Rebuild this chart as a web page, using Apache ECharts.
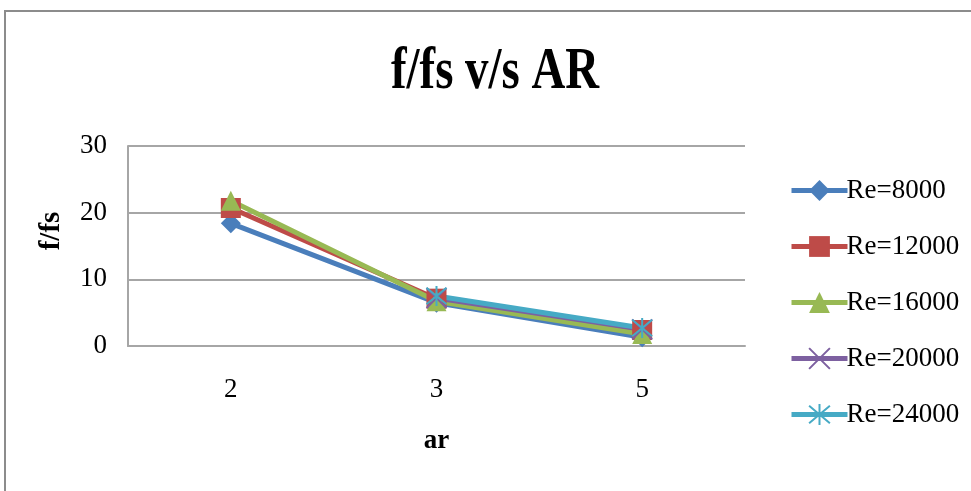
<!DOCTYPE html>
<html><head><meta charset="utf-8">
<script src="https://cdn.jsdelivr.net/npm/echarts@6/dist/echarts.min.js"></script>
<style>html,body{margin:0;padding:0;background:#fff}#c{width:971px;height:491px}</style>
</head><body><div id="c"></div>
<script>
const categories = ['2', '3', '5'];
const seriesNames = ['Re=8000', 'Re=12000', 'Re=16000', 'Re=20000', 'Re=24000'];
const re8000 = [18.4, 6.5, 1.3];
const re12000 = [20.7, 7.1, 2.4];
const re16000 = [21.8, 6.7, 1.8];
const re20000 = [null, 7.2, 2.5];
const re24000 = [null, 7.5, 2.7];
const yTicks = [0, 10, 20, 30];
const titleText = 'f/fs v/s AR';

const colors = ['#4a7ebb', '#be4b48', '#98b954', '#7d60a0', '#46aac5'];
const xPath = 'path://M0,0L10,10M10,0L0,10';
const starPath = 'path://M0,0L10,10M10,0L0,10M5,-1L5,11';
const symbols = ['diamond', 'rect', 'triangle', xPath, starPath];
const sizes = [20, 20, 20, 20, 20];
const data = [re8000, re12000, re16000, re20000, re24000];

const chart = echarts.init(document.getElementById('c'));
const serif = '"Liberation Serif", "Times New Roman", serif';
chart.setOption({
  animation: false,
  color: colors,
  graphic: [
    {type: 'rect', shape: {x: 5, y: 11, width: 1000, height: 520}, style: {fill: 'none', stroke: '#8c8c8c', lineWidth: 2}},
    {type: 'text', x: 495, y: 72, scaleX: 0.78, style: {text: titleText, fontFamily: serif, fontWeight: 'bold', fontSize: 60, fill: '#000', align: 'center', verticalAlign: 'middle'}}
  ],
  legend: {
    orient: 'vertical', left: 784, top: 172, itemGap: 29, itemWidth: 56, itemHeight: 26,
    lineStyle: {width: 5},
    textStyle: {fontFamily: serif, fontSize: 27, color: '#000', padding: [0, 0, 0, -6]},
    data: seriesNames
  },
  grid: {left: 128, top: 146, width: 617, height: 200, containLabel: false},
  xAxis: {
    type: 'category', data: categories, boundaryGap: true,
    name: 'ar', nameLocation: 'middle', nameGap: 82,
    nameTextStyle: {fontFamily: serif, fontWeight: 'bold', fontSize: 27, color: '#000'},
    axisLine: {lineStyle: {color: '#a6a6a6', width: 2}},
    axisTick: {show: false},
    axisLabel: {fontFamily: serif, fontSize: 27, color: '#000', margin: 30}
  },
  yAxis: {
    type: 'value', min: 0, max: 30, interval: 10,
    name: 'f/fs', nameLocation: 'middle', nameGap: 62, nameRotate: 90,
    nameTextStyle: {fontFamily: serif, fontWeight: 'bold', fontSize: 29, color: '#000', padding: [0, 0, 0, 30]},
    axisLine: {show: true, lineStyle: {color: '#a6a6a6', width: 2}},
    axisTick: {show: false},
    splitLine: {lineStyle: {color: '#a6a6a6', width: 2}},
    axisLabel: {fontFamily: serif, fontSize: 27, color: '#000', margin: 21,
      formatter: v => yTicks.includes(v) ? String(v) : ''}
  },
  series: seriesNames.map((n, i) => ({
    name: n, type: 'line', data: data[i],
    symbol: symbols[i], symbolSize: sizes[i],
    lineStyle: {width: 5, color: colors[i]},
    itemStyle: i >= 3 ? {color: colors[i], borderColor: colors[i], borderWidth: 2} : {color: colors[i]}
  }))
});
</script></body></html>
